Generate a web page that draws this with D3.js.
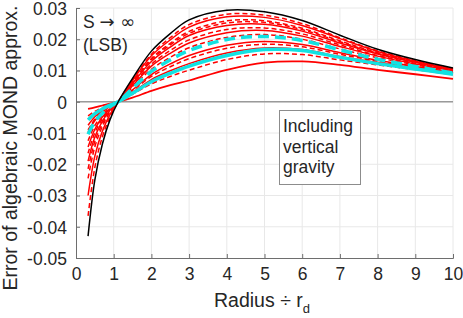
<!DOCTYPE html>
<html>
<head>
<meta charset="utf-8">
<script src="https://cdn.jsdelivr.net/npm/d3@7"></script>
<style>
    body { margin: 0; background: #fff; }
    text { font-family: "Liberation Sans", Arial, Helvetica, sans-serif; fill: #262626; }
</style>
</head>
<body>
<svg id="chart" width="463" height="318"></svg>
<script>
const radius = [0.32, 0.5, 0.7, 0.9, 1.12, 1.5, 2, 2.5, 3, 4, 5, 6, 7, 8, 9, 10];

// S -> infinity (LSB) limit
const lsbLimit = [-0.043, -0.025, -0.0135, -0.0058, 0, 0.0075, 0.0162, 0.0218, 0.0262, 0.0293, 0.0288, 0.026, 0.0213, 0.0168, 0.0135, 0.0108];

// red family, from the highest peak to the lowest
const red1 = [-0.0365, -0.0210, -0.0112, -0.0049, 0, 0.0070, 0.0152, 0.0205, 0.0247, 0.0280, 0.0277, 0.0250, 0.0205, 0.0163, 0.0132, 0.0106];
const red2 = [-0.0300, -0.0174, -0.0094, -0.0041, 0, 0.0068, 0.0147, 0.0198, 0.0239, 0.0272, 0.0270, 0.0244, 0.0202, 0.0161, 0.0130, 0.0105];
const red3 = [-0.0245, -0.0144, -0.0079, -0.0034, 0, 0.0063, 0.0138, 0.0187, 0.0225, 0.0259, 0.0259, 0.0235, 0.0195, 0.0157, 0.0129, 0.0104];
const red4 = [-0.0215, -0.0127, -0.0070, -0.0030, 0, 0.0061, 0.0134, 0.0182, 0.0219, 0.0252, 0.0254, 0.0231, 0.0192, 0.0155, 0.0127, 0.0103];
const red5 = [-0.0190, -0.0113, -0.0062, -0.0027, 0, 0.0059, 0.0129, 0.0175, 0.0212, 0.0244, 0.0248, 0.0226, 0.0188, 0.0153, 0.0126, 0.0102];
const red6 = [-0.0165, -0.0099, -0.0055, -0.0024, 0, 0.0055, 0.0120, 0.0164, 0.0198, 0.0231, 0.0236, 0.0217, 0.0182, 0.0148, 0.0123, 0.0100];
const red7 = [-0.0145, -0.0088, -0.0049, -0.0022, 0, 0.0051, 0.0114, 0.0155, 0.0188, 0.0221, 0.0228, 0.0210, 0.0177, 0.0146, 0.0121, 0.0099];
const red8 = [-0.0125, -0.0076, -0.0043, -0.0019, 0, 0.0047, 0.0104, 0.0142, 0.0173, 0.0206, 0.0215, 0.0200, 0.0169, 0.0141, 0.0118, 0.0097];
const red9 = [-0.0096, -0.0060, -0.0034, -0.0015, 0, 0.0038, 0.0087, 0.0121, 0.0148, 0.0181, 0.0193, 0.0183, 0.0157, 0.0133, 0.0113, 0.0094];
const red10 = [-0.0090, -0.0056, -0.0032, -0.0015, 0, 0.0035, 0.0081, 0.0112, 0.0138, 0.0171, 0.0184, 0.0176, 0.0152, 0.0130, 0.0112, 0.0093];
const red11 = [-0.0075, -0.0048, -0.0028, -0.0013, 0, 0.0030, 0.0071, 0.0099, 0.0122, 0.0156, 0.0172, 0.0167, 0.0145, 0.0126, 0.0108, 0.0091];
const red12 = [-0.0045, -0.0031, -0.0019, -0.0009, 0, 0.0024, 0.0057, 0.0081, 0.0101, 0.0135, 0.0153, 0.0151, 0.0134, 0.0118, 0.0103, 0.0087];
const red13 = [-0.0023, -0.0018, -0.0012, -0.0006, 0, 0.0013, 0.0035, 0.0053, 0.0068, 0.0102, 0.0125, 0.0129, 0.0118, 0.0102, 0.0088, 0.0073];

// the two cyan reference curves
const cyanDashed = [-0.0104, -0.0064, -0.0037, -0.0016, 0, 0.0043, 0.0097, 0.0134, 0.0164, 0.0199, 0.0209, 0.0196, 0.0166, 0.0136, 0.0113, 0.0092];
const cyanSolid = [-0.0058, -0.0038, -0.0023, -0.0011, 0, 0.0027, 0.0064, 0.0091, 0.0114, 0.0148, 0.0167, 0.0164, 0.0142, 0.0122, 0.0105, 0.0088];

const xTicks = [0, 1, 2, 3, 4, 5, 6, 7, 8, 9, 10];
const yTicks = [-0.05, -0.04, -0.03, -0.02, -0.01, 0, 0.01, 0.02, 0.03];
const yTickLabels = ['-0.05', '-0.04', '-0.03', '-0.02', '-0.01', '0', '0.01', '0.02', '0.03'];

// drawing order: reds, then cyan, black on top
const lines = [
    {values: red1, color: '#ff0000', width: 1.5, dash: '5,3'},
    {values: red2, color: '#ff0000', width: 1.5, dash: null},
    {values: red3, color: '#ff0000', width: 1.5, dash: '5,3'},
    {values: red4, color: '#ff0000', width: 1.5, dash: '5,3'},
    {values: red5, color: '#ff0000', width: 1.5, dash: null},
    {values: red6, color: '#ff0000', width: 1.5, dash: '5,3'},
    {values: red7, color: '#ff0000', width: 1.5, dash: null},
    {values: red8, color: '#ff0000', width: 1.5, dash: '5,3'},
    {values: red9, color: '#ff0000', width: 1.5, dash: null},
    {values: red10, color: '#ff0000', width: 1.5, dash: '5,3'},
    {values: red11, color: '#ff0000', width: 1.5, dash: null},
    {values: red12, color: '#ff0000', width: 1.5, dash: '5,3'},
    {values: red13, color: '#ff0000', width: 1.8, dash: null},
    {values: cyanDashed, color: '#12e2e2', width: 3.5, dash: '11,6'},
    {values: cyanSolid, color: '#12e2e2', width: 3.5, dash: null},
    {values: lsbLimit, color: '#000000', width: 1.5, dash: null}
];

const svg = d3.select('#chart');
const plotLeft = 76, plotRight = 453, plotTop = 8, plotBottom = 258;

const x = d3.scaleLinear().domain([0, 10]).range([plotLeft, plotRight]);
const y = d3.scaleLinear().domain([-0.05, 0.03]).range([plotBottom, plotTop]);

// grid
svg.append('g')
    .selectAll('line')
    .data(xTicks.slice(1))
    .enter()
    .append('line')
    .attr('x1', d => x(d)).attr('x2', d => x(d))
    .attr('y1', plotTop).attr('y2', plotBottom)
    .style('stroke', '#e8e8e8').style('stroke-width', '1px');

svg.append('g')
    .selectAll('line')
    .data(yTicks.slice(1))
    .enter()
    .append('line')
    .attr('x1', plotLeft).attr('x2', plotRight)
    .attr('y1', d => y(d)).attr('y2', d => y(d))
    .style('stroke', '#e8e8e8').style('stroke-width', '1px');

// zero reference line
svg.append('line')
    .attr('x1', plotLeft).attr('x2', plotRight)
    .attr('y1', y(0)).attr('y2', y(0))
    .style('stroke', '#9a9a9a').style('stroke-width', '1.5px');

// curves
const lineGen = d3.line()
    .x((d, i) => x(radius[i]))
    .y(d => y(d))
    .curve(d3.curveCatmullRom.alpha(0.5));

svg.append('g')
    .selectAll('path')
    .data(lines)
    .enter()
    .append('path')
    .attr('d', d => lineGen(d.values))
    .style('fill', 'none')
    .style('stroke', d => d.color)
    .style('stroke-width', d => d.width + 'px')
    .style('stroke-dasharray', d => d.dash);

// axes (MATLAB style: ticks inside, no box)
const xAxis = d3.axisBottom(x).tickValues(xTicks).tickSize(-4).tickPadding(10).tickFormat(d3.format('d'));
const yAxis = d3.axisLeft(y).tickValues(yTicks).tickSize(-4).tickPadding(9).tickFormat((d, i) => yTickLabels[i]);

const gx = svg.append('g').attr('transform', 'translate(0,' + plotBottom + ')').call(xAxis);
const gy = svg.append('g').attr('transform', 'translate(' + plotLeft + ',0)').call(yAxis);

[gx, gy].forEach(function (g) {
    g.select('.domain').style('stroke', '#6e6e6e').style('stroke-width', '1px');
    g.selectAll('.tick line').style('stroke', '#6e6e6e');
    g.selectAll('.tick text').style('font-size', '17.5px').style('fill', '#262626')
        .style('font-family', '"Liberation Sans", Arial, sans-serif');
});
gx.selectAll('.tick text').attr('dy', '0.71em');
gy.selectAll('.tick text').attr('dy', '0.36em');

// axis titles
const xTitle = svg.append('text')
    .attr('x', 262).attr('y', 307)
    .attr('text-anchor', 'middle')
    .style('font-size', '19.5px');
xTitle.append('tspan').text('Radius \u00F7 r');
xTitle.append('tspan').attr('dy', 6).style('font-size', '13px').text('d');

svg.append('text')
    .attr('transform', 'translate(17,148) rotate(-90)')
    .attr('text-anchor', 'middle')
    .style('font-size', '19.5px')
    .text('Error of algebraic MOND approx.');

// annotations
const sText = svg.append('text').attr('x', 83).attr('y', 28).style('font-size', '17.5px');
sText.append('tspan').text('S ');
sText.append('tspan').style('font-family', '"DejaVu Sans", sans-serif').style('font-size', '18px').text('\u2192 \u221E');
svg.append('text').attr('x', 83).attr('y', 51).style('font-size', '17.5px').text('(LSB)');

svg.append('rect')
    .attr('x', 279.5).attr('y', 110.5)
    .attr('width', 81).attr('height', 74)
    .style('fill', '#fff').style('stroke', '#8c8c8c').style('stroke-width', '1px');

const boxLines = ['Including', 'vertical', 'gravity'];
svg.append('g')
    .selectAll('text')
    .data(boxLines)
    .enter()
    .append('text')
    .attr('x', 283)
    .attr('y', (d, i) => 132 + i * 20.5)
    .style('font-size', '17.5px')
    .text(d => d);
</script>
</body>
</html>
